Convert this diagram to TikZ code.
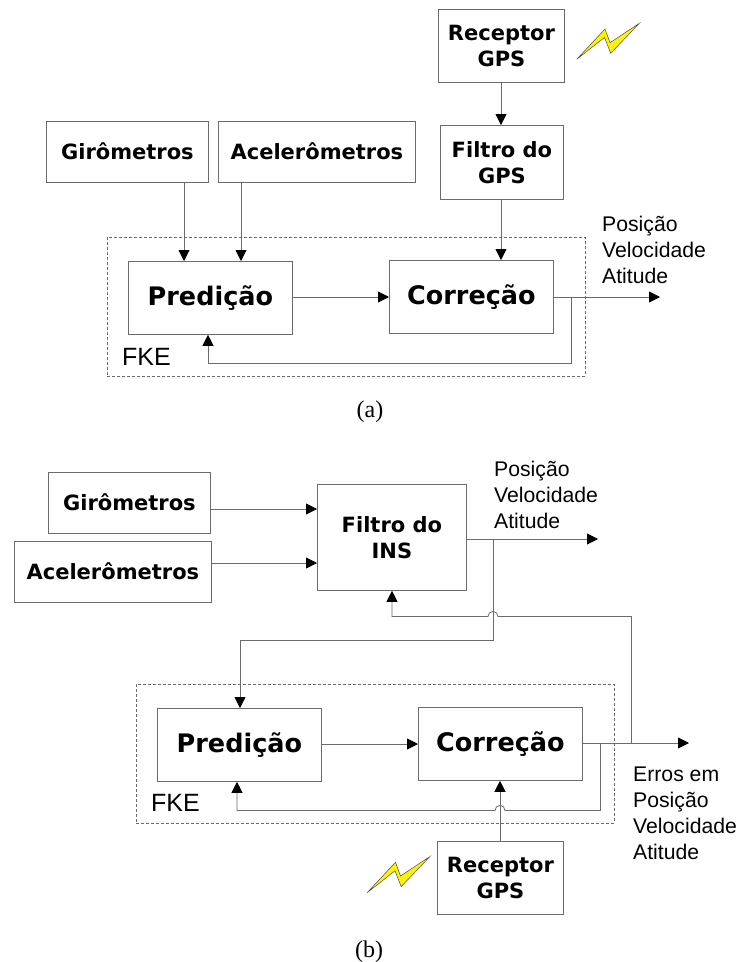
\documentclass[tikz,border=0pt]{standalone}
\usepackage{fontspec}
\setmainfont{Liberation Sans}
\newfontfamily\boxfont{DejaVu Sans}[BoldFont={DejaVu Sans Bold}]
\newfontfamily\capfont{Liberation Serif}
\usetikzlibrary{arrows.meta}
\definecolor{linegray}{gray}{0.42}
\tikzset{
  x=1pt,y=-1pt,
  blockbox/.style={draw=linegray,line width=0.8pt,fill=white,inner sep=0pt,align=center,font=\boxfont\bfseries\fontsize{21}{26}\selectfont},
  bigbox/.style={blockbox,font=\boxfont\bfseries\fontsize{25.5}{28}\selectfont},
  conn/.style={draw=linegray,line width=0.8pt,-{Triangle[length=11pt,width=11pt,color=black]}},
  fkebox/.style={draw=linegray,dashed,dash pattern=on 3pt off 2pt,line width=0.6pt},
  lbl/.style={font=\fontsize{21.2}{25.8}\selectfont,align=left,anchor=north west,inner sep=0pt},
  fkelbl/.style={font=\fontsize{25}{26}\selectfont,inner sep=0pt},
  caplbl/.style={font=\capfont\fontsize{24}{26}\selectfont,inner sep=0pt},
  bolt/.style={draw=black!70,line width=0.5pt,fill=yellow},
}
\newcommand{\mkbox}[7][blockbox]{%
  \node[#1,minimum width=#4pt-#3pt,minimum height=#6pt-#5pt,anchor=north west] (#2) at (#3,#5) {#7};}
\begin{document}
\begin{tikzpicture}
\useasboundingbox (0,0) rectangle (739,962);
% ---- (a)
\node[fkebox,minimum width=478pt,minimum height=139pt,anchor=north west,inner sep=0pt] (fkea) at (107,237) {};
\mkbox{recA}{438}{564}{9}{82}{Receptor\\GPS}
\mkbox{filA}{440}{563}{125}{199}{Filtro do\\GPS}
\mkbox{girA}{46}{208}{121}{182}{\raisebox{1.5pt}{Girômetros}}
\mkbox{aceA}{218}{415}{121}{182}{\raisebox{1.5pt}{Acelerômetros}}
\mkbox[bigbox]{preA}{128}{292}{261}{334}{Predição}
\mkbox[bigbox]{corA}{389}{553}{260}{333}{Correção}
\draw[bolt] (576.7,59.3)--(605,29)--(610,42.7)--(639.3,23.3)--(610.7,53.3)--(604.5,37.5)--cycle;
\draw[conn] (recA.south -| 501,0) -- (filA.north -| 501,0);
\draw[conn] (filA.south -| 501,0) -- (corA.north -| 501,0);
\draw[conn] (girA.south -| 184,0) -- (preA.north -| 184,0);
\draw[conn] (aceA.south -| 241,0) -- (preA.north -| 241,0);
\draw[conn] (preA.east |- 0,297) -- (corA.west |- 0,297);
\coordinate (outA) at (660,297);
\draw[conn] (corA.east |- 0,297) -- (outA);
\draw[conn] (571,297) -- (571,363) -- (208,363) -- (preA.south -| 208,0);
\node[lbl] (posA) at (602,216) {Posição\\Velocidade\\Atitude};
\node[fkelbl,anchor=west] (fkeAl) at (122,357) {FKE};
\node[caplbl] (capa) at (370,412) {(a)};
% ---- (b)
\node[fkebox,minimum width=478pt,minimum height=139pt,anchor=north west,inner sep=0pt] (fkeb) at (136,684) {};
\mkbox{girB}{48}{210}{472}{533}{\raisebox{1.5pt}{Girômetros}}
\mkbox{aceB}{14}{211}{541}{602}{\raisebox{1.5pt}{Acelerômetros}}
\mkbox{filB}{317}{466}{484}{590}{Filtro do\\INS}
\mkbox[bigbox]{preB}{157}{321}{708}{781}{Predição}
\mkbox[bigbox]{corB}{418}{582}{707}{780}{Correção}
\mkbox{recB}{437}{563}{841}{914}{Receptor\\GPS}
\draw[bolt] (367.2,892.6)--(395.5,862.3)--(400.5,876)--(429.8,856.6)--(401.2,886.6)--(395,870.8)--cycle;
\draw[conn] (girB.east |- 0,509) -- (filB.west |- 0,509);
\draw[conn] (aceB.east |- 0,563) -- (filB.west |- 0,563);
\coordinate (outB) at (598,539);
\draw[conn] (filB.east |- 0,539) -- (outB);
\draw[conn] (493,539) -- (493,640) -- (240,640) -- (preB.north -| 240,0);
\draw[conn] (631.4,743) -- (631.4,616.4) -- (498,616.4) arc[start angle=0,end angle=-180,radius=5] -- (392,616.4) -- (filB.south -| 392,0);
\draw[conn] (preB.east |- 0,744) -- (corB.west |- 0,744);
\coordinate (outC) at (689,743);
\draw[conn] (corB.east |- 0,743) -- (outC);
\draw[conn] (600.4,743) -- (600.4,810.4) -- (505,810.4) arc[start angle=0,end angle=-180,radius=5] -- (237,810.4) -- (preB.south -| 237,0);
\draw[conn] (recB.north -| 500,0) -- (corB.south -| 500,0);
\node[lbl] (posB) at (494,461) {Posição\\Velocidade\\Atitude};
\node[lbl] (errB) at (633,767) {Erros em\\Posição\\Velocidade\\Atitude};
\node[fkelbl,anchor=west] (fkeBl) at (151,803) {FKE};
\node[caplbl] (capb) at (369,952) {(b)};
\end{tikzpicture}
\end{document}
